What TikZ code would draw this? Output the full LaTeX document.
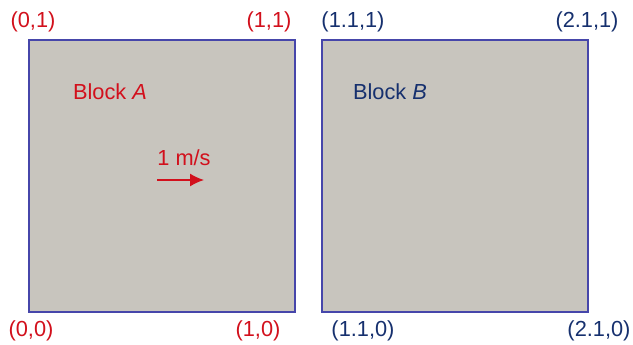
\documentclass[tikz,border=0pt]{standalone}
\usepackage{fontspec}
\setmainfont{Liberation Sans}
\usetikzlibrary{arrows.meta}
\definecolor{lred}{RGB}{210,16,28}
\definecolor{lblue}{RGB}{22,48,110}
\definecolor{bfill}{RGB}{200,197,190}
\definecolor{bdraw}{RGB}{70,70,170}
\begin{document}
\begin{tikzpicture}[x=0.5pt,y=-0.5pt,
  blockbox/.style={draw=bdraw,fill=bfill,line width=0.6pt},
  lbl/.style={inner sep=0pt,font=\fontsize{10.9}{13}\selectfont},
  redlbl/.style={lbl,text=lred},
  bluelbl/.style={lbl,text=lblue}]
\useasboundingbox (0,0) rectangle (633,344);
\draw[blockbox] (29,40) rectangle (295,312);
\draw[blockbox] (322,40) rectangle (588,312);
\node[redlbl] (a01) at (33,22) {(0,1)};
\node[redlbl] (a11) at (269,22) {(1,1)};
\node[redlbl] (a00) at (31,331) {(0,0)};
\node[redlbl] (a10) at (258,331) {(1,0)};
\node[bluelbl] (b01) at (353,22) {(1.1,1)};
\node[bluelbl] (b11) at (587,22) {(2.1,1)};
\node[bluelbl] (b00) at (363,331) {(1.1,0)};
\node[bluelbl] (b10) at (599,331) {(2.1,0)};
\node[redlbl] (ta) at (110,92) {Block \textit{A}};
\node[bluelbl] (tb) at (390,92) {Block \textit{B}};
\node[redlbl] (v) at (184,158) {1 m/s};
\coordinate (s) at (157,180);
\coordinate (e) at (204,180);
\draw[lred,line width=0.7pt,-{Latex[length=7pt,width=6.5pt]}] (s) -- (e);
\end{tikzpicture}
\end{document}
